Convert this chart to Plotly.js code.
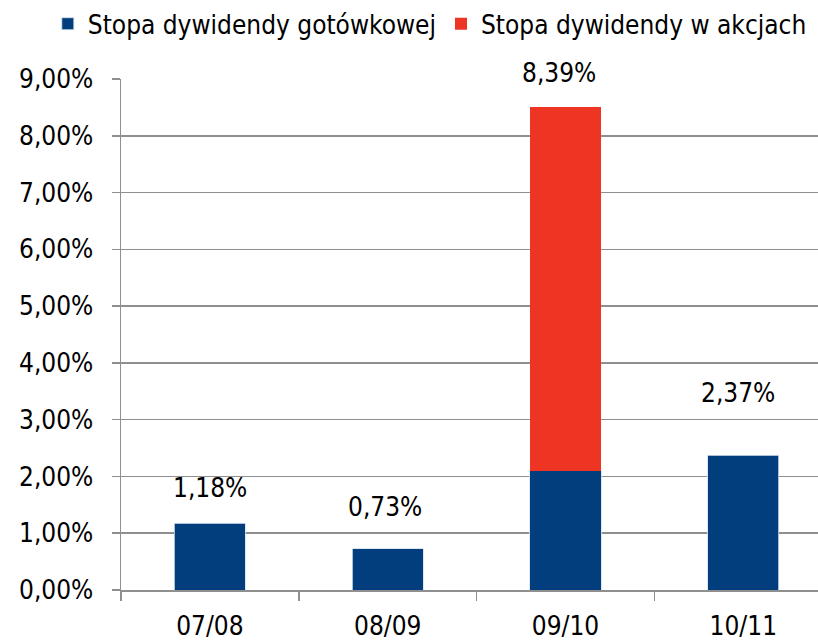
<!DOCTYPE html>
<html>
<head>
<meta charset="utf-8">
<script src="https://cdn.plot.ly/plotly-3.0.1.min.js"></script>
<style>html,body{margin:0;padding:0;background:#fff;overflow:hidden;}</style>
</head>
<body>
<div id="chart" style="width:818px;height:640px;"></div>
<script>
// ---- data ----
const categories = ["07/08", "08/09", "09/10", "10/11"];
const cashYield = [1.18, 0.73, 2.10, 2.37];      // Stopa dywidendy gotówkowej
const stockYield = [0, 0, 6.40, 0];              // Stopa dywidendy w akcjach
const totalLabels = ["1,18%", "0,73%", "8,39%", "2,37%"];
const yTickValues = [0, 1, 2, 3, 4, 5, 6, 7, 8, 9];
const yTickLabels = ["0,00%", "1,00%", "2,00%", "3,00%", "4,00%", "5,00%", "6,00%", "7,00%", "8,00%", "9,00%"];
const seriesNames = ["Stopa dywidendy gotówkowej", "Stopa dywidendy w akcjach"];

// ---- styles ----
const FONT = "DejaVu Sans Condensed, DejaVu Sans, sans-serif";
const FS = 26;
const BLUE = "#023E7D";
const RED = "#EE3524";
const GRID = "#8f8f8f";
const labelShiftY = [35, 42, 34, 62];
const labelShiftX = [0, -3, -7, -5];

const traces = [
  {
    type: "bar", name: seriesNames[0], x: categories, y: cashYield,
    marker: {color: BLUE, line: {color: "#d6e0ee", width: 0.8}},
    hoverinfo: "skip"
  },
  {
    type: "bar", name: seriesNames[1], x: categories, y: stockYield,
    marker: {color: RED, line: {color: RED, width: 0}},
    hoverinfo: "skip"
  }
];

const annotations = categories.map((c, i) => ({
  x: c, y: cashYield[i] + stockYield[i],
  xref: "x", yref: "y",
  text: totalLabels[i], showarrow: false,
  xanchor: "center", yanchor: "middle",
  yshift: labelShiftY[i], xshift: labelShiftX[i],
  font: {family: FONT, size: FS, color: "#000"}
}));

const layout = {
  width: 818, height: 640,
  margin: {l: 121, r: 0, t: 79, b: 50, pad: 0},
  paper_bgcolor: "#fff", plot_bgcolor: "#fff",
  barmode: "stack",
  bargap: 0.6,
  font: {family: FONT, size: FS, color: "#000"},
  showlegend: true,
  legend: {
    orientation: "h", traceorder: "normal",
    x: -0.105, xanchor: "left", y: 1.108, yanchor: "middle",
    font: {family: FONT, size: FS, color: "#000"},
    itemwidth: 30, tracegroupgap: 0, bgcolor: "rgba(0,0,0,0)"
  },
  xaxis: {
    type: "category",
    range: [-0.5, 3.42],
    showgrid: false, zeroline: false,
    showline: true, linecolor: GRID, linewidth: 1.5,
    ticks: "outside", tickson: "boundaries", ticklen: 9, tickcolor: GRID, tickwidth: 1.5,
    tickfont: {family: FONT, size: FS, color: "#000"},
    ticklabelstandoff: 12,
    fixedrange: true
  },
  yaxis: {
    range: [0, 9],
    tickvals: yTickValues, ticktext: yTickLabels,
    showgrid: true, gridcolor: GRID, gridwidth: 1.5,
    zeroline: false,
    showline: true, linecolor: GRID, linewidth: 1.5,
    ticks: "outside", ticklen: 8, tickcolor: GRID, tickwidth: 1.5,
    tickfont: {family: FONT, size: FS, color: "#000"},
    ticklabelstandoff: 13,
    fixedrange: true
  },
  annotations: annotations
};

Plotly.newPlot("chart", traces, layout, {displayModeBar: false, staticPlot: true});
</script>
</body>
</html>
